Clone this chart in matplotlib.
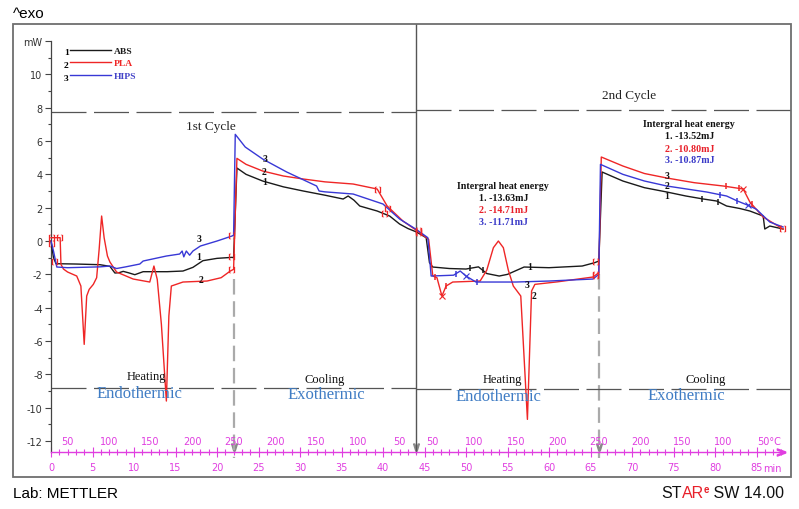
import numpy as np
import matplotlib
matplotlib.use('Agg')
import matplotlib.pyplot as plt
from matplotlib.patches import Rectangle

# ---------------- data ----------------
abs_t = [0.0, 0.3, 0.6, 3.0, 5.9, 7.1, 7.7, 8.2, 8.7, 9.3, 10.1, 11.1, 14.0, 15.9, 17.1, 18.3, 20.0, 21.8, 22.0,
         22.4, 23.5, 25.5, 28.0, 30.4, 33.0, 35.2, 35.8, 36.5, 37.2, 39.3, 40.8, 42.0, 43.0, 44.0, 45.2,
         45.6, 46.0, 48.0, 50.0, 51.5, 52.5, 54.0, 55.0, 57.0, 60.0, 64.0, 65.5, 66.0,
         66.4, 67.5, 68.9, 71.5, 74.2, 76.5, 78.6, 80.2, 81.4, 83.0, 84.2, 85.8, 86.0, 86.6, 88.2]
abs_mw = [0.0, -1.0, -1.36, -1.38, -1.42, -1.52, -1.92, -1.9, -1.82, -1.9, -2.02, -1.84, -1.84, -1.8, -1.58, -1.18, -1.04, -0.98, -1.0,
          4.38, 4.0, 3.6, 3.25, 3.0, 2.75, 2.52, 2.7, 2.45, 2.1, 1.8, 1.5, 1.02, 0.75, 0.55, 0.2,
          -1.3, -1.56, -1.65, -1.68, -1.55, -1.95, -2.1, -2.0, -1.56, -1.6, -1.5, -1.3, -1.2,
          4.14, 3.9, 3.6, 3.2, 2.94, 2.7, 2.52, 2.4, 2.1, 1.95, 1.8, 1.5, 0.72, 0.9, 0.72]

pla_t = [0.0, 1.1, 1.2, 1.5, 2.0, 3.1, 3.6, 4.0, 4.3, 4.6, 5.1, 5.5, 5.8, 6.1, 6.4, 6.8, 7.1, 7.9, 9.9, 11.9, 12.4, 12.8, 13.3, 13.9, 14.2, 14.5, 15.9, 18.8, 20.5, 21.6, 22.0,
         22.4, 23.5, 25.5, 28.0, 30.4, 33.0, 36.4, 39.3, 40.5, 42.4, 44.0, 45.5, 46.0, 46.5, 47.1, 47.6, 48.4, 51.7, 52.5, 53.3, 53.9, 54.5, 55.1, 55.7, 56.6, 57.4, 57.9, 58.3, 61.0, 65.3, 66.0,
         66.3, 68.9, 71.5, 74.2, 77.5, 81.0, 83.4, 84.2, 85.8, 88.2]
pla_mw = [0.2, 0.2, -1.4, -1.68, -1.86, -2.1, -2.7, -6.2, -3.3, -2.9, -2.6, -2.2, -0.5, 1.5, 0.2, -0.9, -1.26, -1.86, -2.28, -2.46, -1.5, -2.3, -5.0, -9.6, -4.5, -2.7, -2.46, -2.4, -2.2, -1.8, -1.7,
          4.96, 4.6, 4.2, 3.9, 3.72, 3.55, 3.42, 3.12, 2.1, 1.2, 0.65, 0.1, -2.1, -2.2, -3.3, -2.7, -2.46, -2.4, -1.75, -0.4, 0.0, -0.4, -1.75, -2.7, -3.3, -10.7, -3.0, -2.6, -2.45, -2.16, -1.9,
          5.04, 4.5, 4.05, 3.78, 3.5, 3.3, 3.12, 2.34, 1.44, 0.72]

hips_t = [0.0, 0.3, 0.7, 2.0, 5.9, 7.1, 7.9, 9.0, 10.7, 11.1, 13.9, 15.5, 15.8, 16.0, 16.3, 16.7, 17.1, 18.0, 20.0, 21.8, 22.0,
          22.2, 23.4, 25.5, 28.4, 32.0, 32.3, 33.0, 36.4, 40.0, 42.0, 44.0, 45.4, 45.8, 48.5, 49.3, 50.0, 51.2, 56.0, 60.0, 65.3, 66.0,
          66.2, 68.9, 71.5, 74.2, 79.0, 81.4, 82.7, 84.2, 85.0, 86.6, 88.2]
hips_mw = [0.0, -0.6, -1.56, -1.6, -1.55, -1.5, -1.65, -1.55, -1.38, -1.2, -0.9, -0.78, -0.6, -0.95, -0.6, -0.85, -0.6, -0.3, 0.0, 0.3, 0.35,
           6.4, 5.64, 4.92, 4.14, 3.3, 3.0, 2.95, 2.82, 2.22, 1.32, 0.7, 0.2, -2.1, -2.05, -1.8, -2.1, -2.46, -2.46, -2.4, -2.28, -2.0,
           4.6, 4.0, 3.6, 3.3, 2.94, 2.7, 2.4, 2.1, 1.9, 1.14, 0.84]

# integration limits (red brackets) and evaluation marks
abs_limits = [0.5, 21.8, 40.2, 44.3, 65.7]
pla_limits = [0.1, 1.1, 21.8, 39.4, 44.3, 65.7, 88.2]
hips_limits = [0.1, 21.8, 40.6, 44.3, 65.7]
abs_marks = [50.5, 52.0, 78.4, 80.4]
pla_marks = [46.3, 47.6, 81.3, 82.9, 84.4]
hips_marks = [48.8, 51.3, 80.6, 82.6]

names = ['ABS', 'PLA', 'HIPS']
energies_1 = [-13.63, -14.71, -11.71]
energies_2 = [-13.52, -10.80, -10.87]

# temperature programme: segment boundaries (min) and temperatures (°C)
seg_bounds = [0, 22, 44, 66, 88]
t_low, t_high = 30, 250
temp_heat_labels = [50, 100, 150, 200, 250]
temp_cool_labels = [200, 150, 100, 50]
time_ticks = list(range(0, 90, 5))

# ---------------- style ----------------
C_BLACK = '#1a1a1a'
C_RED = '#ef2626'
C_BLUE = '#3838d6'
C_MAG = '#e03ee0'
C_ANN_BLUE = '#3f7cc4'
SERIF = 'Liberation Serif'

fig = plt.figure(figsize=(7.99, 5.10), dpi=100)
ax = fig.add_axes([13/799, 32/510, 778/799, 453/510])
X0 = (13 - 51) / 8.3
X1 = (791 - 51) / 8.3
ax.set_xlim(X0, X1)
ax.set_ylim(-14.157, 13.02)
AXIS_Y = -12.66

# frame
ax.add_patch(Rectangle((0, 0), 1, 1, transform=ax.transAxes, fill=False,
                       ec='#6e6e6e', lw=1.3, clip_on=False, zorder=10))

for s in ['top', 'right']:
    ax.spines[s].set_visible(False)
ax.spines['left'].set_position(('data', 0))
ax.spines['left'].set_bounds(AXIS_Y, 12)
ax.spines['left'].set_color('#444444')
ax.spines['left'].set_linewidth(0.9)
ax.spines['bottom'].set_position(('data', AXIS_Y))
ax.spines['bottom'].set_bounds(0, 88)
ax.spines['bottom'].set_color(C_MAG)
ax.spines['bottom'].set_linewidth(1.0)

yt = list(range(-12, 13, 2))
ax.set_yticks(yt)
ax.set_yticklabels([str(v) for v in yt[:-1]] + ['mW'])
ax.set_yticks(list(range(-11, 12, 2)), minor=True)
ax.tick_params(axis='y', which='major', direction='out', length=4, width=0.8,
               color='#444444', labelsize=7, labelcolor='#333333', pad=2)
ax.tick_params(axis='y', which='minor', direction='out', length=2.5, width=0.8, color='#444444')

ax.set_xticks(time_ticks)
ax.set_xticklabels([str(v) for v in time_ticks])
ax.set_xticks(list(range(0, 89)), minor=True)
ax.tick_params(axis='x', which='major', direction='inout', length=7, width=0.8,
               color=C_MAG, labelcolor=C_MAG, labelsize=7, pad=4)
ax.tick_params(axis='x', which='minor', direction='inout', length=5, width=0.8, color=C_MAG)
ax.text(85.8, -13.62, 'min', color=C_MAG, fontsize=7, ha='left', va='center')

# arrow head at end of time axis
ax.plot([88], [AXIS_Y], marker=r'$>$', color=C_MAG, ms=6, clip_on=False)

# temperature labels
for i in range(4):
    start = seg_bounds[i]
    if i % 2 == 0:
        for T in temp_heat_labels:
            ax.text(start + (T - t_low) / 10, -12.0, str(T), color=C_MAG, fontsize=7,
                    ha='center', va='center')
    else:
        for T in temp_cool_labels:
            tt = start + (t_high - T) / 10
            if i == 3 and T == 50:
                ax.text(tt - 0.9, -12.0, '50°C', color=C_MAG, fontsize=7, ha='left', va='center')
            else:
                ax.text(tt, -12.0, str(T), color=C_MAG, fontsize=7, ha='center', va='center')

# segment boundary lines and chevrons
for b in seg_bounds[1:4]:
    ax.plot([b], [AXIS_Y + 0.3], marker=r'$\vee$', color='#8a8a8a', ms=5)
ax.plot([seg_bounds[1]] * 2, [-2.3, -13.0], color='#aaaaaa', lw=1.6, dashes=(7, 3))
ax.plot([seg_bounds[3]] * 2, [-2.0, -13.0], color='#aaaaaa', lw=1.6, dashes=(7, 3))
ax.plot([seg_bounds[2]] * 2, [13.02, AXIS_Y], color='#555555', lw=1.0)

# horizontal dashed separators
ax.plot([0, seg_bounds[2]], [7.74, 7.74], color='#555555', lw=0.9, dashes=(28, 6))
ax.plot([seg_bounds[2], X1], [7.86, 7.86], color='#555555', lw=0.9, dashes=(28, 6))
ax.plot([0, seg_bounds[2]], [-8.8, -8.8], color='#555555', lw=0.9, dashes=(28, 6))
ax.plot([seg_bounds[2], X1], [-8.9, -8.9], color='#555555', lw=0.9, dashes=(28, 6))

# curves
series = [(abs_t, abs_mw, C_BLACK, abs_limits, abs_marks),
          (pla_t, pla_mw, C_RED, pla_limits, pla_marks),
          (hips_t, hips_mw, C_BLUE, hips_limits, hips_marks)]
handles = []
for t, v, c, lim, mk in series:
    h, = ax.plot(t, v, color=c, lw=1.0, zorder=3)
    handles.append(h)
for t, v, c, lim, mk in series:
    ax.plot(lim, np.interp(lim, t, v), ls='none', marker=r'$[\,]$', color=C_RED, ms=4.5, mew=0.2, zorder=4)
    ax.plot(mk, np.interp(mk, t, v), ls='none', marker='|', color=c, ms=5, mew=1.1, zorder=4)
ax.plot([47.1, 83.4], np.interp([47.1, 83.4], pla_t, pla_mw), ls='none', marker='x', color=C_RED, ms=4, mew=0.8)
ax.plot([50.0, 84.0], np.interp([50.0, 84.0], hips_t, hips_mw), ls='none', marker='x', color=C_BLUE, ms=4, mew=0.8)

# curve id labels
id_labels = [('3', 17.8, 0.16), ('1', 17.8, -0.94), ('2', 18.1, -2.28),
             ('3', 25.8, 4.98), ('2', 25.7, 4.2), ('1', 25.7, 3.56),
             ('1', 57.7, -1.5), ('3', 57.3, -2.62), ('2', 58.2, -3.24),
             ('3', 74.2, 3.92), ('2', 74.2, 3.32), ('1', 74.2, 2.76)]
for s, x, y in id_labels:
    ax.text(x, y, s, fontsize=7, family=SERIF, weight='bold', color='#111111', ha='center', va='center', zorder=5)

# legend
leg = ax.legend(handles, names, loc='upper left', bbox_to_anchor=(0.0733, 0.951),
                frameon=False, handlelength=4.3, handletextpad=0.35, labelspacing=0.42,
                borderpad=0, borderaxespad=0,
                prop={'family': SERIF, 'weight': 'bold', 'size': 6.8})
for txt, c in zip(leg.get_texts(), [C_BLACK, C_RED, '#4444c8']):
    txt.set_color(c)
for i, v in enumerate([11.34, 10.56, 9.78]):
    ax.text(1.85, v, str(i + 1), fontsize=6.8, family=SERIF, weight='bold', ha='center', va='center')

# cycle titles
ax.text(19.3, 6.9, '1st Cycle', fontsize=9.5, family=SERIF, ha='center', va='center', color='#222222')
ax.text(69.6, 8.76, '2nd Cycle', fontsize=9.5, family=SERIF, ha='center', va='center', color='#222222')

# heating / cooling annotations
for (x, y, s) in [(11.5, -8.1, 'Heating'), (33.0, -8.25, 'Cooling'),
                  (54.4, -8.25, 'Heating'), (78.9, -8.25, 'Cooling')]:
    ax.text(x, y, s, fontsize=9, family=SERIF, ha='center', va='center', color='#111111', zorder=6)
for (x, y, s) in [(10.6, -9.1, 'Endothermic'), (33.2, -9.15, 'Exothermic'),
                  (53.9, -9.3, 'Endothermic'), (76.6, -9.25, 'Exothermic')]:
    ax.text(x, y, s, fontsize=12, family=SERIF, ha='center', va='center', color=C_ANN_BLUE, zorder=6)

# integral heat energy blocks
txt_cols = ['#111111', '#e8202a', '#3a3ac8']
for (xc, ys, en) in [(54.5, [3.32, 2.62, 1.88, 1.18], energies_1),
                     (76.9, [7.06, 6.32, 5.58, 4.9], energies_2)]:
    ax.text(xc, ys[0], 'Intergral heat energy', fontsize=7.2, family=SERIF, weight='bold',
            ha='center', va='center', color='#111111')
    for i in range(3):
        ax.text(xc, ys[i + 1], f'{i + 1}. {en[i]:.2f}mJ', fontsize=7.2, family=SERIF, weight='bold',
                ha='center', va='center', color=txt_cols[i])

# outer texts
fig.text(13/799, 1 - 14/510, '^exo', fontsize=11, family='Liberation Sans', va='center', ha='left')
fig.text(13/799, 1 - 494/510, 'Lab: METTLER', fontsize=11, family='Liberation Sans', va='center', ha='left')
t1 = fig.text(661/799, 1 - 494/510, 'ST', fontsize=11.5, family='Liberation Sans', va='center', ha='left', color='#111111')
t2 = ax.annotate('AR', xy=(1, 0), xycoords=t1, va='bottom', ha='left', fontsize=11.5,
                 family='Liberation Sans', color='#e8202a', annotation_clip=False)
t3 = ax.annotate('e', xy=(1, 0.45), xycoords=t2, va='bottom', ha='left', fontsize=7,
                 family='Liberation Sans', weight='bold', color='#e8202a', annotation_clip=False)
ax.annotate(' SW 14.00', xy=(1, 0), xycoords=(t3, t2), va='bottom', ha='left', fontsize=11.5,
            family='Liberation Sans', color='#111111', annotation_clip=False)

fig.savefig('out.png', dpi=100)
